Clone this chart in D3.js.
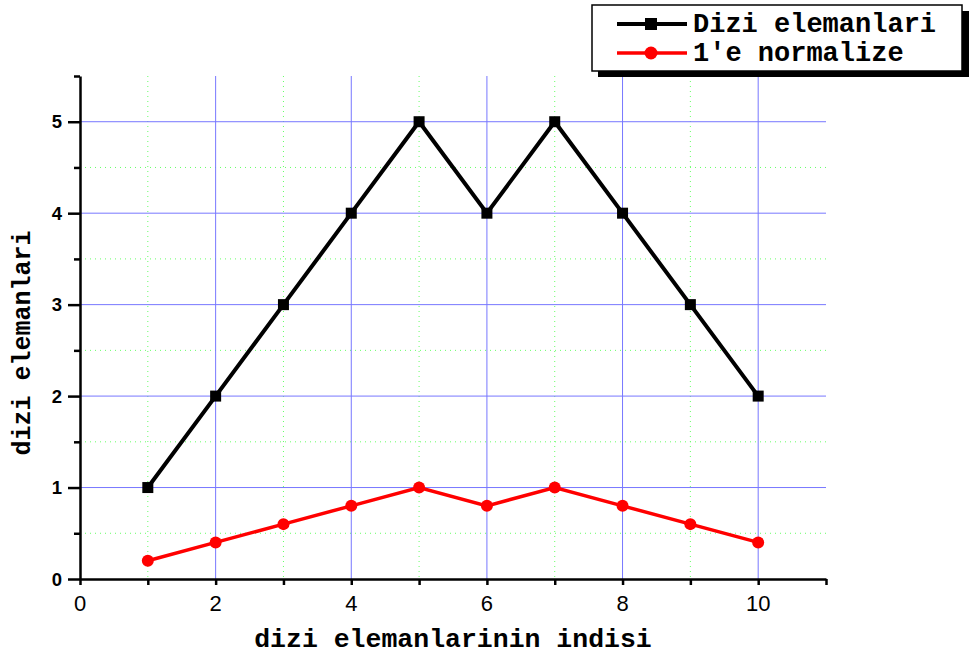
<!DOCTYPE html>
<html><head><meta charset="utf-8">
<script src="https://cdn.jsdelivr.net/npm/d3@7"></script>
<style>body{margin:0;background:#fff;}svg{display:block;}</style>
</head><body>
<script>
const indices = [1,2,3,4,5,6,7,8,9,10];
const diziValues = [1,2,3,4,5,4,5,4,3,2];
const normValues = [0.2,0.4,0.6,0.8,1,0.8,1,0.8,0.6,0.4];
const xTicks = [0,2,4,6,8,10];
const yTicks = [0,1,2,3,4,5];
const seriesNames = ["Dizi elemanlari","1'e normalize"];

const W=970,H=655;
const svg=d3.select("body").append("svg").attr("width",W).attr("height",H);
const x=d3.scaleLinear().domain([0,11]).range([80,826]);
const y=d3.scaleLinear().domain([0,5.5]).range([579,76]);

// minor grid
const g=svg.append("g");
[1,3,5,7,9].forEach(v=>g.append("line").attr("x1",x(v)).attr("x2",x(v)).attr("y1",y(5.5)).attr("y2",y(0))
  .attr("stroke","#6f6").attr("stroke-width",1).attr("stroke-dasharray","1,4"));
[0.5,1.5,2.5,3.5,4.5].forEach(v=>g.append("line").attr("x1",x(0)).attr("x2",x(11)).attr("y1",y(v)).attr("y2",y(v))
  .attr("stroke","#6f6").attr("stroke-width",1).attr("stroke-dasharray","1,4"));
// major grid
xTicks.filter(v=>v>0).forEach(v=>g.append("line").attr("x1",x(v)).attr("x2",x(v)).attr("y1",y(5.5)).attr("y2",y(0))
  .attr("stroke","#7777ff").attr("stroke-width",1));
yTicks.filter(v=>v>0).forEach(v=>g.append("line").attr("x1",x(0)).attr("x2",x(11)).attr("y1",y(v)).attr("y2",y(v))
  .attr("stroke","#7777ff").attr("stroke-width",1));

// axes (lines from d3.axis, labels placed with the same scales)
const xAxis=svg.append("g").attr("transform",`translate(0,${y(0)})`)
  .call(d3.axisBottom(x).tickValues(xTicks).tickSize(6).tickSizeOuter(0).tickFormat(""));
xAxis.select(".domain").attr("stroke","#000").attr("stroke-width",2.5);
xAxis.selectAll(".tick line").attr("stroke-width",2.5);
const xMinor=svg.append("g").attr("transform",`translate(0,${y(0)})`)
  .call(d3.axisBottom(x).tickValues([1,3,5,7,9,11]).tickSize(6).tickFormat(""));
xMinor.select(".domain").remove();
xMinor.selectAll(".tick line").attr("stroke-width",2.5);
svg.append("g").selectAll("text").data(xTicks).enter().append("text")
  .attr("x",d=>x(d)).attr("y",611).attr("text-anchor","middle")
  .attr("font-family","Liberation Sans, Arial, sans-serif").attr("font-size",22).attr("fill","#000")
  .text(d=>d3.format("d")(d));

const yAxis=svg.append("g").attr("transform",`translate(${x(0)},0)`)
  .call(d3.axisLeft(y).tickValues(yTicks).tickSize(12).tickSizeOuter(0).tickFormat(""));
yAxis.select(".domain").attr("stroke","#000").attr("stroke-width",2.5);
yAxis.selectAll(".tick line").attr("stroke-width",2.5);
const yMinor=svg.append("g").attr("transform",`translate(${x(0)},0)`)
  .call(d3.axisLeft(y).tickValues([0.5,1.5,2.5,3.5,4.5,5.5]).tickSize(6).tickFormat(""));
yMinor.select(".domain").remove();
yMinor.selectAll(".tick line").attr("stroke-width",2.5);
svg.append("g").selectAll("text").data(yTicks).enter().append("text")
  .attr("x",62).attr("y",d=>y(d)+6.5).attr("text-anchor","end")
  .attr("font-family","Liberation Sans, Arial, sans-serif").attr("font-weight","bold").attr("font-size",18.5).attr("fill","#000")
  .text(d=>d3.format("d")(d));

// lines
const line=d3.line().x((d,i)=>x(indices[i])).y(d=>y(d));
svg.append("path").datum(diziValues).attr("d",line).attr("fill","none").attr("stroke","#000").attr("stroke-width",4);
svg.selectAll(".sq").data(diziValues).enter().append("rect")
  .attr("x",(d,i)=>x(indices[i])-5.5).attr("y",d=>y(d)-5.5).attr("width",11).attr("height",11).attr("fill","#000");
svg.append("path").datum(normValues).attr("d",line).attr("fill","none").attr("stroke","#f00").attr("stroke-width",3.5);
svg.selectAll(".ci").data(normValues).enter().append("circle")
  .attr("cx",(d,i)=>x(indices[i])).attr("cy",d=>y(d)).attr("r",6).attr("fill","#f00");

// axis labels
svg.append("text").attr("x",453).attr("y",647).attr("text-anchor","middle")
  .attr("font-family","Courier New, Liberation Mono").attr("font-weight","bold").attr("font-size",26.5).text("dizi elemanlarinin indisi");
svg.append("text").attr("transform","translate(30,343) rotate(-90)").attr("text-anchor","middle")
  .attr("font-family","Courier New, Liberation Mono").attr("font-weight","bold").attr("font-size",25).text("dizi elemanlari");

// legend
const lg=svg.append("g");
lg.append("rect").attr("x",598).attr("y",11).attr("width",371).attr("height",66).attr("fill","#000");
lg.append("rect").attr("x",592).attr("y",5).attr("width",370).attr("height",66).attr("fill","#fff").attr("stroke","#000").attr("stroke-width",1.5);
lg.append("line").attr("x1",617).attr("x2",687).attr("y1",24).attr("y2",24).attr("stroke","#000").attr("stroke-width",4);
lg.append("rect").attr("x",645).attr("y",18).attr("width",12).attr("height",12).attr("fill","#000");
lg.append("line").attr("x1",617).attr("x2",687).attr("y1",53).attr("y2",53).attr("stroke","#f00").attr("stroke-width",3.5);
lg.append("circle").attr("cx",651).attr("cy",53).attr("r",6.5).attr("fill","#f00");
seriesNames.forEach((n,i)=>lg.append("text").attr("x",693).attr("y",32+i*29)
  .attr("font-family","Courier New, Liberation Mono").attr("font-weight","bold").attr("font-size",27).text(n));
</script>
</body></html>
